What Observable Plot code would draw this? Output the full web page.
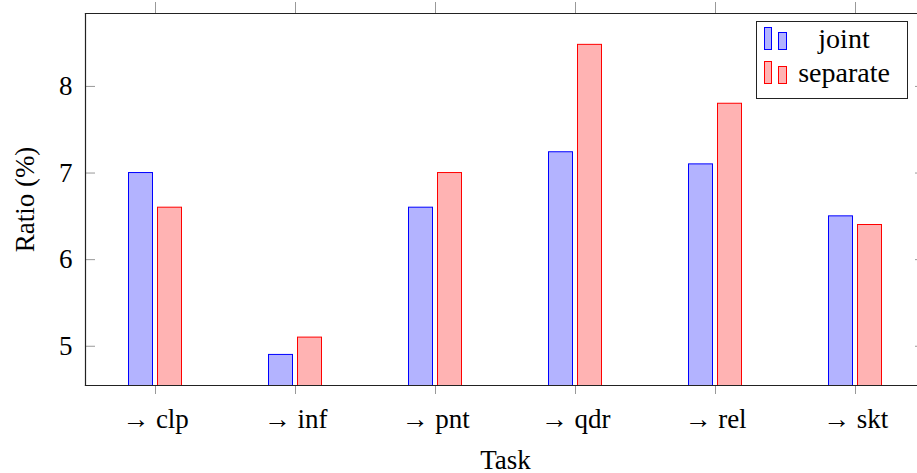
<!DOCTYPE html>
<html>
<head>
<meta charset="utf-8">
<script src="https://cdn.jsdelivr.net/npm/d3@7"></script>
<script src="https://cdn.jsdelivr.net/npm/@observablehq/plot@0.6"></script>
<style>
  html, body { margin: 0; padding: 0; background: #fff; overflow: hidden; }
  #wrap { position: relative; width: 917px; height: 473px; overflow: hidden; font-family: 'Liberation Serif', 'DejaVu Serif', serif; }
  #wrap svg { max-width: none !important; overflow: hidden; font-family: 'Liberation Serif', 'DejaVu Serif', serif !important; }
  #wrap svg text { font-family: 'Liberation Serif', 'DejaVu Serif', serif !important; }
  #legend { position: absolute; left: 756px; top: 21px; width: 150px; height: 76px; border: 1px solid #222; background: #fff; }
  .row { position: absolute; left: 0; width: 150px; height: 34px; }
  .ic { position: absolute; box-sizing: border-box; border-width: 1px; border-style: solid; }
  .lt { position: absolute; left: 34px; width: 106px; text-align: center; font-size: 28px; line-height: 28px; color: #000; font-family: 'Liberation Serif', 'DejaVu Serif', serif; }
</style>
</head>
<body>
<div id="wrap"></div>
<script>
const tasks = ["clp", "inf", "pnt", "qdr", "rel", "skt"];
const series = ["joint", "separate"];
const joint = [7.0, 4.9, 6.6, 7.24, 7.1, 6.5];
const separate = [6.6, 5.1, 7.0, 8.48, 7.8, 6.4];
const yTicks = [5, 6, 7, 8];
const fills = ["#b3b3ff", "#ffb3b3"];
const strokes = ["#0000ff", "#ff0000"];
const xLabel = "Task";
const yLabel = "Ratio (%)";

const rows = tasks.map((t, i) => ({task: t, joint: joint[i], separate: separate[i]}));

const chart = Plot.plot({
  width: 917,
  height: 473,
  marginLeft: 85,
  marginRight: -8,
  marginTop: 13,
  marginBottom: 88,
  style: {fontSize: "27px", color: "#000", background: "#fff", overflow: "hidden"},
  x: {type: "band", domain: tasks, padding: 0, axis: null},
  y: {domain: [4.547, 8.842], axis: null},
  marks: [
    Plot.barY(rows, {x: "task", y: "joint", fill: fills[0], stroke: strokes[0], strokeWidth: 1, insetLeft: 43.5, insetRight: 72.5, clip: true}),
    Plot.barY(rows, {x: "task", y: "separate", fill: fills[1], stroke: strokes[1], strokeWidth: 1, insetLeft: 72.5, insetRight: 43.5, clip: true}),
    Plot.tickY(yTicks, {y: d => d, stroke: "#999", insetRight: 830, strokeWidth: 1}),
    Plot.tickY(yTicks, {y: d => d, stroke: "#999", insetLeft: 830, strokeWidth: 1}),
    Plot.axisX({anchor: "bottom", tickSize: 9, tickPadding: 14, stroke: "#999", fill: "#000", tickFormat: d => "→ " + d, label: null, fontSize: 27}),
    Plot.axisX({anchor: "top", tickSize: 12, stroke: "#999", tickFormat: () => "", label: null}),
    Plot.axisY({anchor: "left", ticks: yTicks, tickSize: 0, tickPadding: 13, fill: "#000", tickFormat: d => String(d), label: null, fontSize: 27}),
    Plot.frame({anchor: "left", stroke: "#222", strokeWidth: 1.2}),
    Plot.frame({anchor: "top", stroke: "#222", strokeWidth: 1.2}),
    Plot.frame({anchor: "bottom", stroke: "#222", strokeWidth: 1.2}),
    Plot.text([yLabel], {frameAnchor: "left", textAnchor: "middle", rotate: -90, dx: -60, fontSize: 27, fill: "#000"}),
    Plot.text([xLabel], {frameAnchor: "bottom", dy: 83, fontSize: 27, fill: "#000"})
  ]
});

const wrap = document.getElementById("wrap");
wrap.appendChild(chart);

// legend
const legend = document.createElement("div");
legend.id = "legend";
const rowTops = [0, 34];
series.forEach((s, i) => {
  const r = document.createElement("div");
  r.className = "row";
  r.style.top = rowTops[i] + "px";
  const ic1 = document.createElement("div");
  ic1.className = "ic";
  Object.assign(ic1.style, {left: "7px", top: "5px", width: "8px", height: "23px", background: fills[i], borderColor: strokes[i]});
  const ic2 = document.createElement("div");
  ic2.className = "ic";
  Object.assign(ic2.style, {left: "21px", top: "10px", width: "9px", height: "18px", background: fills[i], borderColor: strokes[i]});
  const t = document.createElement("div");
  t.className = "lt";
  t.style.top = "3px";
  t.textContent = s;
  r.appendChild(ic1); r.appendChild(ic2); r.appendChild(t);
  legend.appendChild(r);
});
wrap.appendChild(legend);
</script>
</body>
</html>
